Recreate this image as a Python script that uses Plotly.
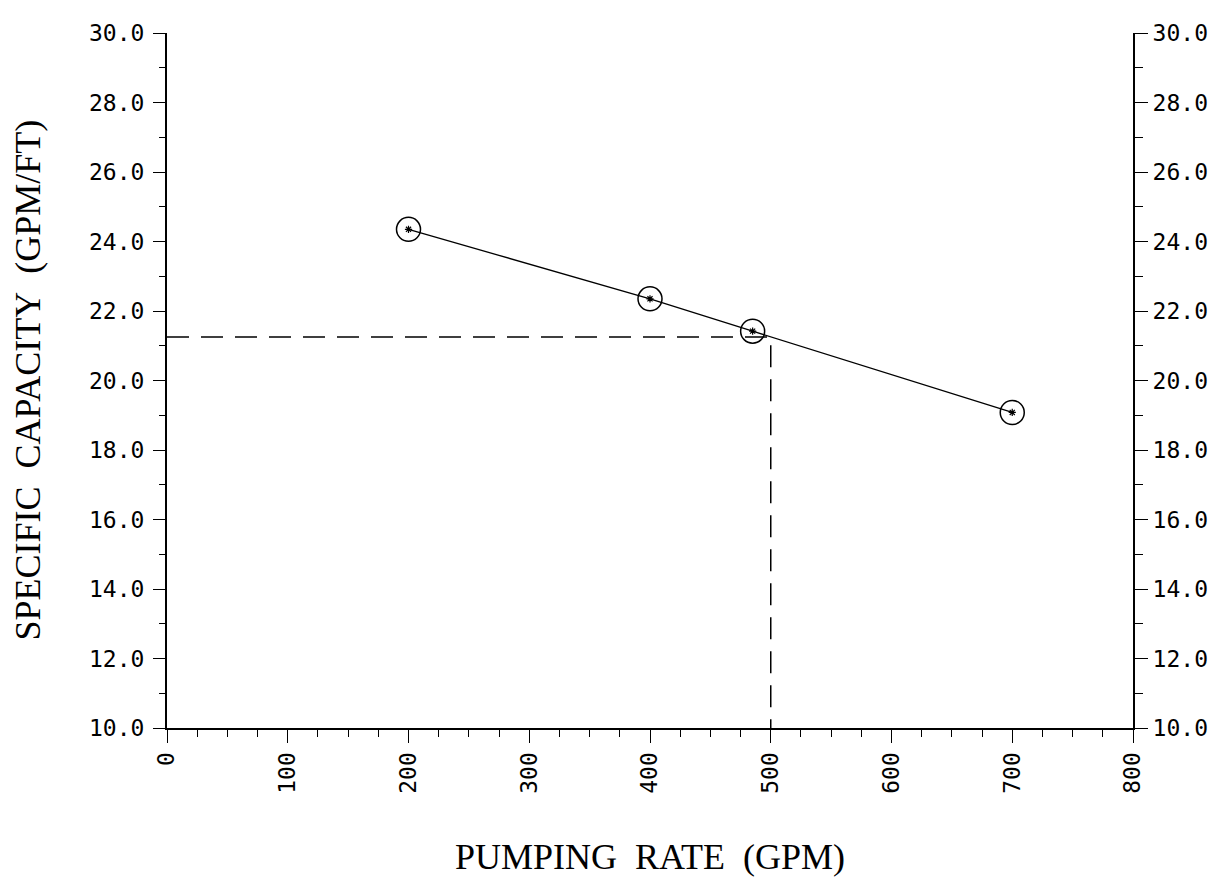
import plotly.graph_objects as go

# Data
pumping_rate = [200, 400, 485, 700]          # GPM
specific_capacity = [24.35, 22.35, 21.42, 19.08]  # GPM/FT

design_rate = 500
design_capacity = 21.25

x_ticks = [0, 100, 200, 300, 400, 500, 600, 700, 800]
y_ticks = [10, 12, 14, 16, 18, 20, 22, 24, 26, 28, 30]
y_ticklabels = [f"{v:.1f}" for v in y_ticks]

x_title = "PUMPING&nbsp; RATE&nbsp; (GPM)"
y_title = "SPECIFIC&nbsp; CAPACITY&nbsp; (GPM/FT)"

# page body adds an 8px offset
W, H = 1224, 869
L, R, T, B = 159, 99, 14, 149

tick_font = dict(family="DejaVu Sans Mono", size=23, color="black")
title_font = dict(family="Liberation Serif", size=36, color="black")

fig = go.Figure()

# dashed guide lines (design point)
fig.add_trace(go.Scatter(
    x=[0, design_rate, design_rate], y=[design_capacity, design_capacity, y_ticks[0]],
    mode="lines", line=dict(color="black", width=1.5, dash="22px,12px"),
    hoverinfo="skip", showlegend=False, cliponaxis=False))

# data line with open circles
fig.add_trace(go.Scatter(
    x=pumping_rate, y=specific_capacity, mode="lines+markers",
    line=dict(color="black", width=1.3),
    marker=dict(symbol="circle-open", size=24, color="black", line=dict(width=1.5)),
    showlegend=False))
# small asterisks at centres
fig.add_trace(go.Scatter(
    x=pumping_rate, y=specific_capacity, mode="markers",
    marker=dict(symbol="asterisk-open", size=6, color="black", line=dict(width=1.2)),
    showlegend=False))
# invisible trace to activate right axis
fig.add_trace(go.Scatter(
    x=pumping_rate, y=specific_capacity, yaxis="y2", mode="markers",
    marker=dict(opacity=0), hoverinfo="skip", showlegend=False))

axis_common = dict(showgrid=False, zeroline=False, showline=True, linecolor="black",
                   linewidth=2, ticks="outside", tickcolor="black", tickwidth=1.3)

fig.update_layout(
    width=W, height=H, margin=dict(l=L, r=R, t=T, b=B, pad=0),
    paper_bgcolor="white", plot_bgcolor="white", showlegend=False,
    xaxis=dict(range=[0, 800], tickvals=x_ticks, ticktext=[str(v) for v in x_ticks],
               tickangle=-90, ticklen=13, tickfont=tick_font,
               minor=dict(dtick=25, ticks="outside", ticklen=7, tickcolor="black", tickwidth=1.3),
               **axis_common),
    yaxis=dict(range=[10, 30], tickvals=y_ticks, ticktext=y_ticklabels, ticklen=12,
               tickfont=tick_font, ticklabelstandoff=4,
               minor=dict(dtick=1, ticks="outside", ticklen=6, tickcolor="black", tickwidth=1.3),
               **axis_common),
    yaxis2=dict(range=[10, 30], overlaying="y", side="right", tickvals=y_ticks,
                ticktext=y_ticklabels, ticklen=13, tickfont=tick_font, ticklabelstandoff=0,
                minor=dict(dtick=1, ticks="outside", ticklen=8, tickcolor="black", tickwidth=1.3),
                **axis_common),
)

fig.add_annotation(text=x_title, xref="paper", yref="paper", x=0.5, y=0,
                   yshift=-129, showarrow=False, font=title_font,
                   xanchor="center", yanchor="middle")
fig.add_annotation(text=y_title, xref="paper", yref="paper", x=0, y=0.5,
                   xshift=-140, showarrow=False, font=title_font, textangle=-90,
                   xanchor="center", yanchor="middle")

fig.write_html("out.html")
